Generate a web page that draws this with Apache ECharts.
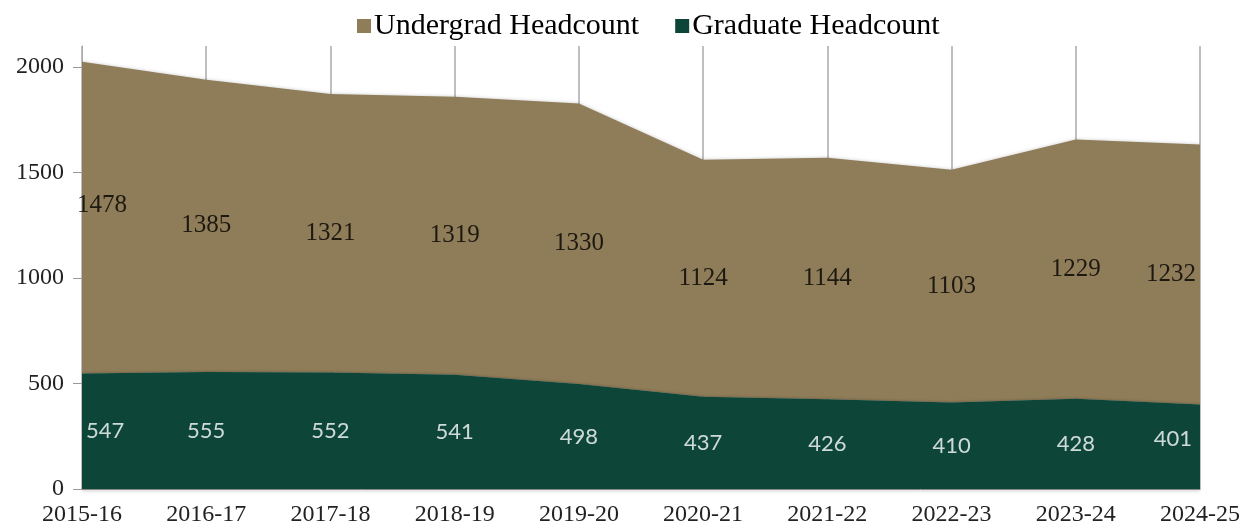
<!DOCTYPE html>
<html>
<head>
<meta charset="utf-8">
<script src="https://cdn.jsdelivr.net/npm/echarts@6/dist/echarts.min.js"></script>
<style>
    html, body { margin: 0; padding: 0; background: #fff; }
    #headcount_chart { width: 1251px; height: 527px; }
</style>
</head>
<body>
<div id="headcount_chart"></div>
<script>
// Chart data
// ------------------------------

var years = ['2015-16', '2016-17', '2017-18', '2018-19', '2019-20', '2020-21', '2021-22', '2022-23', '2023-24', '2024-25'];
var undergrad = [1478, 1385, 1321, 1319, 1330, 1124, 1144, 1103, 1229, 1232];
var graduate = [547, 555, 552, 541, 498, 437, 426, 410, 428, 401];
var yTicks = [0, 500, 1000, 1500, 2000];

var serifFont = '"Liberation Serif", "DejaVu Serif", serif';
var labelFont = 'Lato, "Open Sans", sans-serif';

// Label positions: middle of each band, edge labels pulled inside
var gradLabels = graduate.map(function(v, i) {
    var lbl = { formatter: String(v) };
    if (i === 0) { lbl.align = 'left'; lbl.offset = [4, 0]; }
    if (i === graduate.length - 1) { lbl.align = 'right'; lbl.offset = [-8, -8]; }
    return { value: [i, v / 2], label: lbl };
});
var ugLabels = undergrad.map(function(v, i) {
    var lbl = { formatter: String(v) };
    if (i === 0) { lbl.align = 'left'; lbl.offset = [-5, -12]; }
    if (i === undergrad.length - 1) { lbl.align = 'right'; lbl.offset = [-4, 0]; }
    return { value: [i, graduate[i] + v / 2], label: lbl };
});

var chart = echarts.init(document.getElementById('headcount_chart'));

chart.setOption({
    animation: false,
    color: ['#8F7C58', '#0D4638'],

    grid: {
        left: 82,
        right: 51,
        top: 46,
        bottom: 38
    },

    legend: {
        data: ['Undergrad Headcount', 'Graduate Headcount'],
        top: 6,
        left: 352,
        icon: 'rect',
        itemWidth: 14,
        itemHeight: 14,
        itemGap: 36,
        textStyle: {
            fontFamily: serifFont,
            fontSize: 30,
            color: '#000',
            padding: [0, 0, 0, -2]
        }
    },

    xAxis: {
        type: 'category',
        data: years,
        boundaryGap: false,
        axisLine: {
            lineStyle: { color: '#888', width: 1, shadowColor: 'rgba(0,0,0,0.35)', shadowBlur: 3, shadowOffsetY: 1 }
        },
        axisTick: { show: false },
        axisLabel: {
            fontFamily: serifFont,
            fontSize: 24,
            color: '#222',
            margin: 14
        },
        splitLine: {
            show: true,
            lineStyle: { color: '#aaa', width: 1.5 }
        }
    },

    yAxis: {
        type: 'value',
        min: 0,
        max: 2100,
        interval: 500,
        axisLine: {
            show: true,
            lineStyle: { color: '#aaa' }
        },
        axisTick: {
            show: true,
            length: 9,
            customValues: yTicks,
            lineStyle: { color: '#999' }
        },
        axisLabel: {
            fontFamily: serifFont,
            fontSize: 24,
            color: '#222',
            margin: 18,
            customValues: yTicks,
            formatter: function(v) { return String(v); }
        },
        splitLine: { show: false }
    },

    series: [
        {
            name: 'Graduate Headcount',
            type: 'line',
            stack: 'total',
            data: graduate,
            symbol: 'none',
            lineStyle: { width: 0 },
            itemStyle: { color: '#0D4638' },
            areaStyle: { color: '#0D4638', opacity: 1, shadowColor: 'rgba(0,0,0,0.3)', shadowBlur: 3 },
            z: 3
        },
        {
            name: 'Undergrad Headcount',
            type: 'line',
            stack: 'total',
            data: undergrad,
            symbol: 'none',
            lineStyle: { width: 0 },
            itemStyle: { color: '#8F7C58' },
            areaStyle: { color: '#8F7C58', opacity: 1, shadowColor: 'rgba(0,0,0,0.35)', shadowBlur: 4, shadowOffsetY: 1 },
            z: 2
        },
        {
            name: 'gradLabels',
            type: 'scatter',
            data: gradLabels,
            symbolSize: 0,
            silent: true,
            z: 5,
            label: {
                show: true,
                position: 'inside',
                fontFamily: labelFont,
                fontSize: 22,
                color: '#fff'
            }
        },
        {
            name: 'ugLabels',
            type: 'scatter',
            data: ugLabels,
            symbolSize: 0,
            silent: true,
            z: 5,
            label: {
                show: true,
                position: 'inside',
                fontFamily: serifFont,
                fontSize: 25,
                color: '#000'
            }
        }
    ]
});
</script>
</body>
</html>
